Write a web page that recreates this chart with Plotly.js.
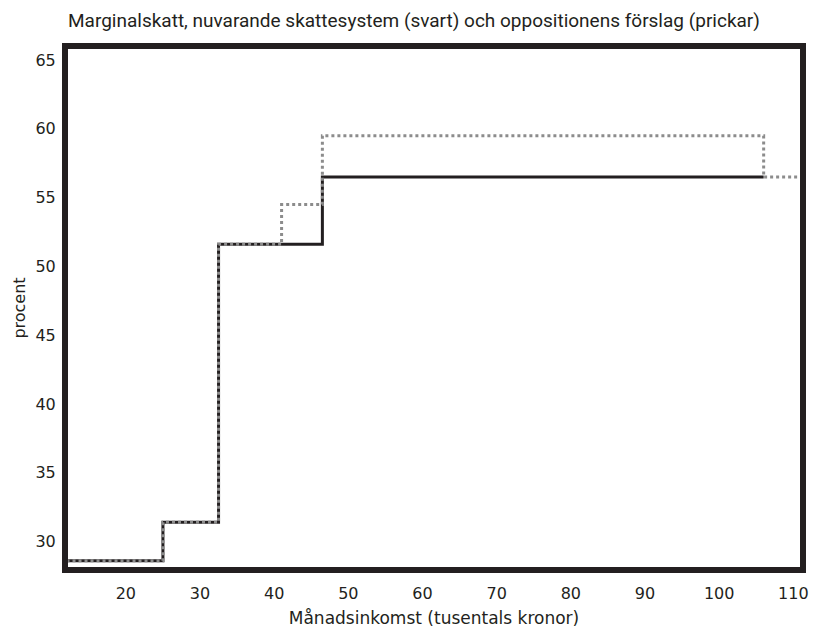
<!DOCTYPE html>
<html><head><meta charset="utf-8">
<script src="https://cdn.plot.ly/plotly-3.0.1.min.js"></script>
<style>html,body{margin:0;padding:0;background:#fff}#chart{width:815px;height:628px}</style>
</head><body><div id="chart"></div>
<script>
const nowIncome = [12, 25, 32.5, 46.5, 106];
const nowRate = [28.6, 31.4, 51.6, 56.5, 56.5];
const propIncome = [12, 25, 32.5, 41, 46.5, 106, 111];
const propRate = [28.6, 31.4, 51.6, 54.5, 59.5, 56.5, 56.5];
const xTicks = [20, 30, 40, 50, 60, 70, 80, 90, 100, 110];
const yTicks = [30, 35, 40, 45, 50, 55, 60, 65];

const traces = [
  {x: nowIncome, y: nowRate, mode: 'lines', line: {shape: 'hv', color: '#231f20', width: 3}, hoverinfo: 'skip'},
  {x: propIncome, y: propRate, mode: 'lines', line: {shape: 'hv', color: '#8c8c8c', width: 3, dash: 'dot'}, hoverinfo: 'skip'}
];
const layout = {
  width: 815, height: 628,
  margin: {l: 68, r: 15, t: 49, b: 61},
  showlegend: false,
  paper_bgcolor: '#fff', plot_bgcolor: '#fff',
  font: {family: '"DejaVu Sans", sans-serif', color: '#231f20', size: 16},
  title: {text: 'Marginalskatt, nuvarande skattesystem (svart) och oppositionens förslag (prickar)',
    x: 0, xref: 'paper', xanchor: 'left', y: 0.967, yanchor: 'middle',
    font: {family: 'Liberation Sans Narrow, Roboto, sans-serif', size: 19, color: '#231f20'}},
  xaxis: {range: [12.2, 110.9], tickvals: xTicks, ticktext: xTicks.map(String), showgrid: false, zeroline: false,
    showline: true, mirror: true, linecolor: '#231f20', linewidth: 6, ticks: '', ticklabelstandoff: 7,
    tickfont: {size: 16},
    title: {text: 'Månadsinkomst (tusentals kronor)', standoff: 14, font: {size: 17}}},
  yaxis: {range: [28.15, 65.8], tickvals: yTicks, ticktext: yTicks.map(String), showgrid: false, zeroline: false,
    showline: true, mirror: true, linecolor: '#231f20', linewidth: 6, ticks: '', ticklabelstandoff: 3,
    tickfont: {size: 16},
    title: {text: 'procent', standoff: 8, font: {size: 16}}}
};
Plotly.newPlot('chart', traces, layout, {staticPlot: true});
</script></body></html>
